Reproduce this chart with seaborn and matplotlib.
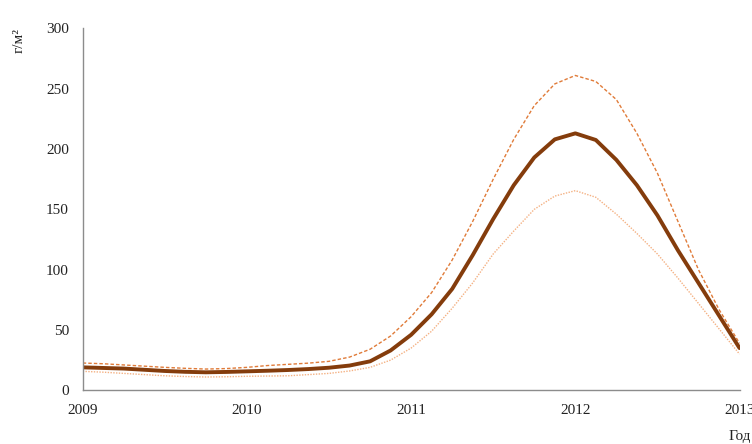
import pandas as pd
import matplotlib
matplotlib.use("Agg")
import matplotlib.pyplot as plt
import seaborn as sns

# --- Data (every 1/8 year) ---
YEARS = [2009.0, 2009.125, 2009.25, 2009.375, 2009.5, 2009.625, 2009.75, 2009.875,
         2010.0, 2010.125, 2010.25, 2010.375, 2010.5, 2010.625, 2010.75, 2010.875,
         2011.0, 2011.125, 2011.25, 2011.375, 2011.5, 2011.625, 2011.75, 2011.875,
         2012.0, 2012.125, 2012.25, 2012.375, 2012.5, 2012.625, 2012.75, 2012.875,
         2013.0]
MEAN = [19, 18.5, 18, 17, 16, 15.3, 14.9, 15.2,
        15.7, 16.2, 16.8, 17.6, 18.7, 20.5, 24, 33,
        46, 63, 84, 112, 142, 170, 193, 208,
        213, 207.5, 191, 170, 145, 116, 89, 62,
        35]
UPPER = [22.6, 22, 21, 20, 19, 18.2, 17.6, 18,
         19, 20.5, 21.5, 22.5, 24, 27.5, 34, 45,
         61, 81, 108, 140, 175, 208, 236, 254,
         261, 256, 241, 213, 180, 140, 100, 67,
         39]
LOWER = [15.7, 15, 14, 13, 12, 11.4, 11, 11.2,
         11.6, 11.8, 12, 13, 14, 16, 19, 25,
         35, 49, 68, 89, 113, 132, 150, 161,
         165.5, 160, 146, 130, 113, 93, 72, 51,
         30]
X_TICKS = [2009, 2010, 2011, 2012, 2013]
Y_TICKS = [0, 50, 100, 150, 200, 250, 300]

COL_MEAN = "#843C0C"
COL_UPPER = "#E07B39"
COL_LOWER = "#F4B183"
AXIS_GREY = "#8C8C8C"

df = pd.DataFrame({"year": YEARS, "mean": MEAN, "upper": UPPER, "lower": LOWER})

sns.set_theme(style="white")
plt.rcParams['font.family'] = ['Liberation Serif', 'DejaVu Serif']

fig, ax = plt.subplots(figsize=(7.52, 4.44), dpi=100)
fig.subplots_adjust(left=0.110, right=0.9834, bottom=0.121, top=0.936)

sns.lineplot(data=df, x="year", y="lower", ax=ax, color=COL_LOWER,
             linewidth=1.0, linestyle=(0, (1, 1)))
sns.lineplot(data=df, x="year", y="upper", ax=ax, color=COL_UPPER,
             linewidth=1.0, linestyle=(0, (2.5, 1.5)))
sns.lineplot(data=df, x="year", y="mean", ax=ax, color=COL_MEAN,
             linewidth=2.8)

ax.set_xlim(2009, 2013)
ax.set_ylim(0, 300)
ax.set_xticks(X_TICKS)
ax.set_xticklabels([str(t) for t in X_TICKS])
ax.set_yticks(Y_TICKS)
ax.set_xlabel("")
ax.set_ylabel("")

for side in ["top", "right"]:
    ax.spines[side].set_visible(False)
for side in ["left", "bottom"]:
    ax.spines[side].set_color(AXIS_GREY)
    ax.spines[side].set_linewidth(1.0)

ax.tick_params(axis="both", direction="out", length=4, width=1.0,
               color=AXIS_GREY, labelsize=11, labelcolor="#222222")
ax.tick_params(axis="x", pad=6)
ax.tick_params(axis="y", pad=6)

fig.text(0.025, 0.938, "г/м²", rotation=90, ha="center", va="top",
         fontsize=11, color="#222222")
fig.text(0.999, 0.002, "Год", ha="right", va="bottom",
         fontsize=11, color="#222222")

fig.savefig("out.png", dpi=100)
